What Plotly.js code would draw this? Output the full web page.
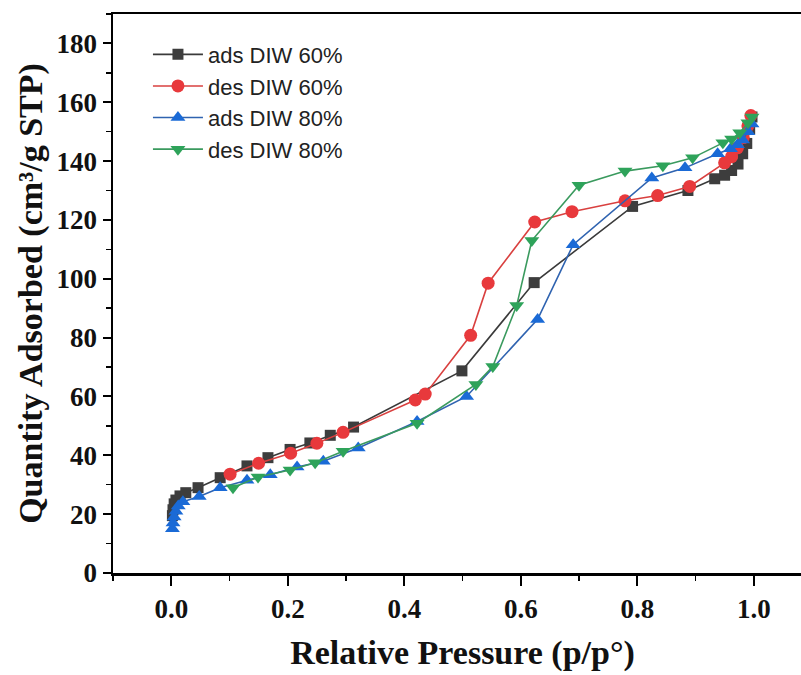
<!DOCTYPE html>
<html>
<head>
<meta charset="utf-8">
<script src="https://cdn.plot.ly/plotly-3.0.1.min.js"></script>
<style>
html, body { margin: 0; padding: 0; overflow: hidden; background: #fff; }
#chart { width: 820px; height: 675px; }
</style>
</head>
<body>
<div id="chart"></div>
<script>
// ads DIW 60% (squares)
const adsDIW60_x = [0.002, 0.003, 0.005, 0.008, 0.015, 0.025, 0.046, 0.084, 0.130, 0.166, 0.204, 0.238, 0.273, 0.313, 0.499, 0.623, 0.792, 0.887, 0.933, 0.950, 0.962, 0.973, 0.981, 0.988, 0.993, 0.997];
const adsDIW60_y = [19.5, 21.5, 23.5, 24.8, 26.2, 27.3, 29.0, 32.4, 36.4, 39.2, 42.0, 44.2, 46.8, 49.6, 68.7, 98.7, 124.6, 130.0, 134.0, 135.2, 136.8, 139.0, 142.5, 146.0, 151.0, 155.0];
// des DIW 60% (circles)
const desDIW60_x = [0.995, 0.990, 0.982, 0.972, 0.962, 0.950, 0.890, 0.835, 0.779, 0.688, 0.624, 0.544, 0.514, 0.436, 0.419, 0.295, 0.250, 0.205, 0.150, 0.101];
const desDIW60_y = [155.5, 152.0, 148.0, 144.5, 141.5, 139.4, 131.4, 128.3, 126.5, 122.8, 119.3, 98.5, 80.8, 60.8, 58.8, 47.8, 44.1, 40.7, 37.3, 33.6];
// ads DIW 80% (up triangles)
const adsDIW80_x = [0.002, 0.003, 0.005, 0.008, 0.012, 0.020, 0.048, 0.084, 0.130, 0.170, 0.216, 0.261, 0.321, 0.422, 0.507, 0.629, 0.690, 0.825, 0.882, 0.938, 0.960, 0.972, 0.981, 0.990, 0.997];
const adsDIW80_y = [15.0, 17.0, 19.0, 21.0, 22.8, 24.2, 26.0, 29.0, 31.5, 33.4, 36.0, 38.0, 42.5, 51.5, 60.0, 86.2, 111.6, 134.3, 137.7, 142.5, 144.2, 145.6, 147.2, 150.0, 152.6];
// des DIW 80% (down triangles)
const desDIW80_x = [0.997, 0.990, 0.976, 0.962, 0.947, 0.895, 0.844, 0.779, 0.700, 0.619, 0.593, 0.552, 0.523, 0.422, 0.295, 0.247, 0.204, 0.149, 0.106];
const desDIW80_y = [155.0, 153.0, 149.6, 147.5, 146.2, 141.1, 138.4, 136.6, 131.8, 113.0, 90.9, 70.2, 64.1, 50.9, 41.4, 37.5, 35.0, 32.6, 29.0];

const seriesNames = ['ads DIW 60%', 'des DIW 60%', 'ads DIW 80%', 'des DIW 80%'];
const xTickVals = [0.0, 0.2, 0.4, 0.6, 0.8, 1.0];
const xTickText = ['0.0', '0.2', '0.4', '0.6', '0.8', '1.0'];
const yTickVals = [0, 20, 40, 60, 80, 100, 120, 140, 160, 180];

const traces = [
  {x: adsDIW60_x, y: adsDIW60_y, name: seriesNames[0], mode: 'lines+markers',
   line: {color: '#3a3a3a', width: 1.6}, marker: {symbol: 'square', size: 11, color: '#3d3d3d'}},
  {x: desDIW60_x, y: desDIW60_y, name: seriesNames[1], mode: 'lines+markers',
   line: {color: '#d9403f', width: 1.6}, marker: {symbol: 'circle', size: 13, color: '#e8393c'}},
  {x: adsDIW80_x, y: adsDIW80_y, name: seriesNames[2], mode: 'lines+markers',
   line: {color: '#2f63b0', width: 1.6}, marker: {symbol: 'triangle-up', size: 13, color: '#1a6ad6'}},
  {x: desDIW80_x, y: desDIW80_y, name: seriesNames[3], mode: 'lines+markers',
   line: {color: '#3a9a5e', width: 1.6}, marker: {symbol: 'triangle-down', size: 13, color: '#2ea35a'}}
];

const tickFont = {family: '"Liberation Serif", "Times New Roman", serif', size: 27, color: '#111', weight: 'bold'};
const titleFont = {family: '"Liberation Serif", "Times New Roman", serif', size: 34, color: '#111', weight: 'bold'};

const layout = {
  width: 820, height: 675,
  margin: {l: 113, r: 8, t: 14, b: 102},
  paper_bgcolor: '#fff', plot_bgcolor: '#fff',
  showlegend: true,
  legend: {x: 0.05, y: 0.965, xanchor: 'left', yanchor: 'top', bgcolor: 'rgba(0,0,0,0)',
           font: {family: '"Liberation Sans", Arial, sans-serif', size: 22, color: '#222'},
           itemwidth: 50, tracegroupgap: 0},
  xaxis: {
    range: [-0.1, 1.1], showgrid: false, zeroline: false,
    showline: true, linecolor: '#000', linewidth: 2.5, mirror: true,
    ticks: 'outside', ticklen: 10, tickwidth: 2, tickcolor: '#000',
    tickvals: xTickVals, ticktext: xTickText, tickfont: tickFont,
    minor: {ticks: 'outside', ticklen: 5, tickwidth: 1.5, tickcolor: '#000', dtick: 0.1, tick0: 0},
    title: {text: 'Relative Pressure (p/p°)', font: titleFont, standoff: 18}
  },
  yaxis: {
    range: [0, 190], showgrid: false, zeroline: false,
    showline: true, linecolor: '#000', linewidth: 2.5, mirror: true,
    ticks: 'outside', ticklen: 8, tickwidth: 2, tickcolor: '#000',
    tickvals: yTickVals, tickfont: tickFont,
    minor: {ticks: 'outside', ticklen: 5, tickwidth: 1.5, tickcolor: '#000', dtick: 10, tick0: 0},
    title: {text: 'Quantity Adsorbed (cm³/g STP)', font: titleFont, standoff: 4}
  }
};

Plotly.newPlot('chart', traces, layout, {displayModeBar: false, staticPlot: true});
</script>
</body>
</html>
